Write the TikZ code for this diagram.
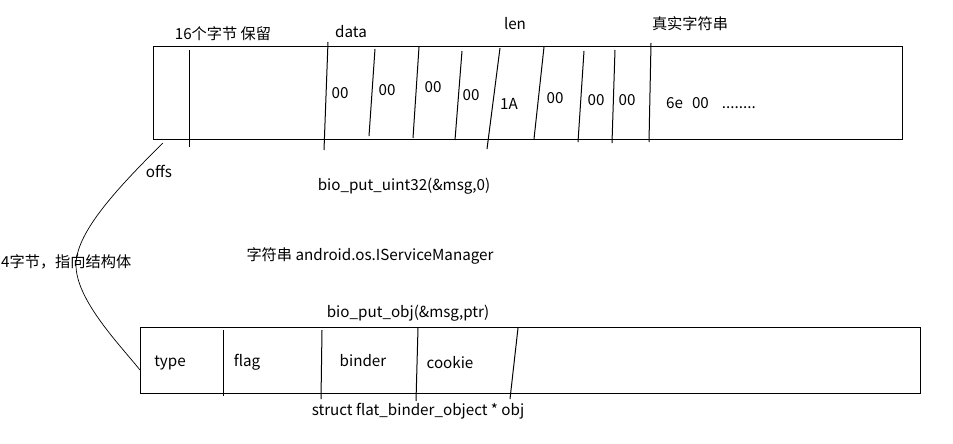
\documentclass[tikz,border=0pt]{standalone}
\usepackage{fontspec}
\setmainfont{Noto Sans CJK SC}
\begin{document}
\begin{tikzpicture}[x=1pt,y=-1pt,
  box/.style={draw, line width=1pt, inner sep=0pt, anchor=north west},
  sep/.style={line width=1pt},
  txt/.style={inner sep=0pt, font=\fontsize{15.2}{17}\selectfont}]
\useasboundingbox[fill=white] (0,0) rectangle (953,444);
% top buffer
\node[box, minimum width=749pt, minimum height=93pt] (top) at (153,46) {};
\draw[sep] (189,50) -- (189,147);
\draw[sep] (328,42) -- (324,150);
\draw[sep] (375,49) -- (369,136);
\draw[sep] (419,47) -- (413,138);
\draw[sep] (462,51) -- (455,140);
\draw[sep] (500,48) -- (487,149);
\draw[sep] (544,47) -- (534,139);
\draw[sep] (584,51) -- (578,142);
\draw[sep] (615,50) -- (612,143);
\draw[sep] (651,43) -- (649,142);
% labels of top buffer
\node[txt] (reserve) at (223,34) {16个字节 保留};
\node[txt] (data) at (351,32) {data};
\node[txt] (len) at (515,24) {len};
\node[txt] (real) at (690,24) {真实字符串};
\node[txt] (b1) at (340,93) {00};
\node[txt] (b2) at (387,90) {00};
\node[txt] (b3) at (433,87) {00};
\node[txt] (b4) at (471,95) {00};
\node[txt] (b5) at (509,104) {1A};
\node[txt] (b6) at (555,98) {00};
\node[txt] (b7) at (596,100) {00};
\node[txt] (b8) at (627,100) {00};
\node[txt, anchor=west] (str) at (666,103) {6e\hspace{9pt}00\hspace{13pt}........};
% middle labels
\node[txt] (offs) at (159,171) {offs};
\node[txt] (uint) at (404,186) {bio\_put\_uint32(\&msg,0)};
\node[txt] (svc) at (370,256) {字符串 android.os.IServiceManager};
\node[txt, anchor=west] (four) at (1,262) {4字节，指向结构体};
\node[txt] (putobj) at (408,313) {bio\_put\_obj(\&msg,ptr)};
% bottom struct
\node[box, minimum width=780pt, minimum height=66pt] (bot) at (140,327) {};
\draw[sep] (223,330) -- (223,396);
\draw[sep] (322,330) -- (321,399);
\draw[sep] (418,328) -- (416,401);
\draw[sep] (518,328) -- (510,399);
\node[txt] (type) at (170,363) {type};
\node[txt] (flag) at (247,362) {flag};
\node[txt] (binder) at (363,361) {binder};
\node[txt] (cookie) at (450,363) {cookie};
\node[txt] (obj) at (418,411) {struct flat\_binder\_object * obj};
% pointer curve
\coordinate (cstart) at (163,143);
\coordinate (cend) at (bot.west |- 0,370);
\draw[line width=0.7pt] (cstart) .. controls (110,195) and (76,235) .. (76,265)
  .. controls (76,300) and (120,345) .. (cend);
\end{tikzpicture}
\end{document}
